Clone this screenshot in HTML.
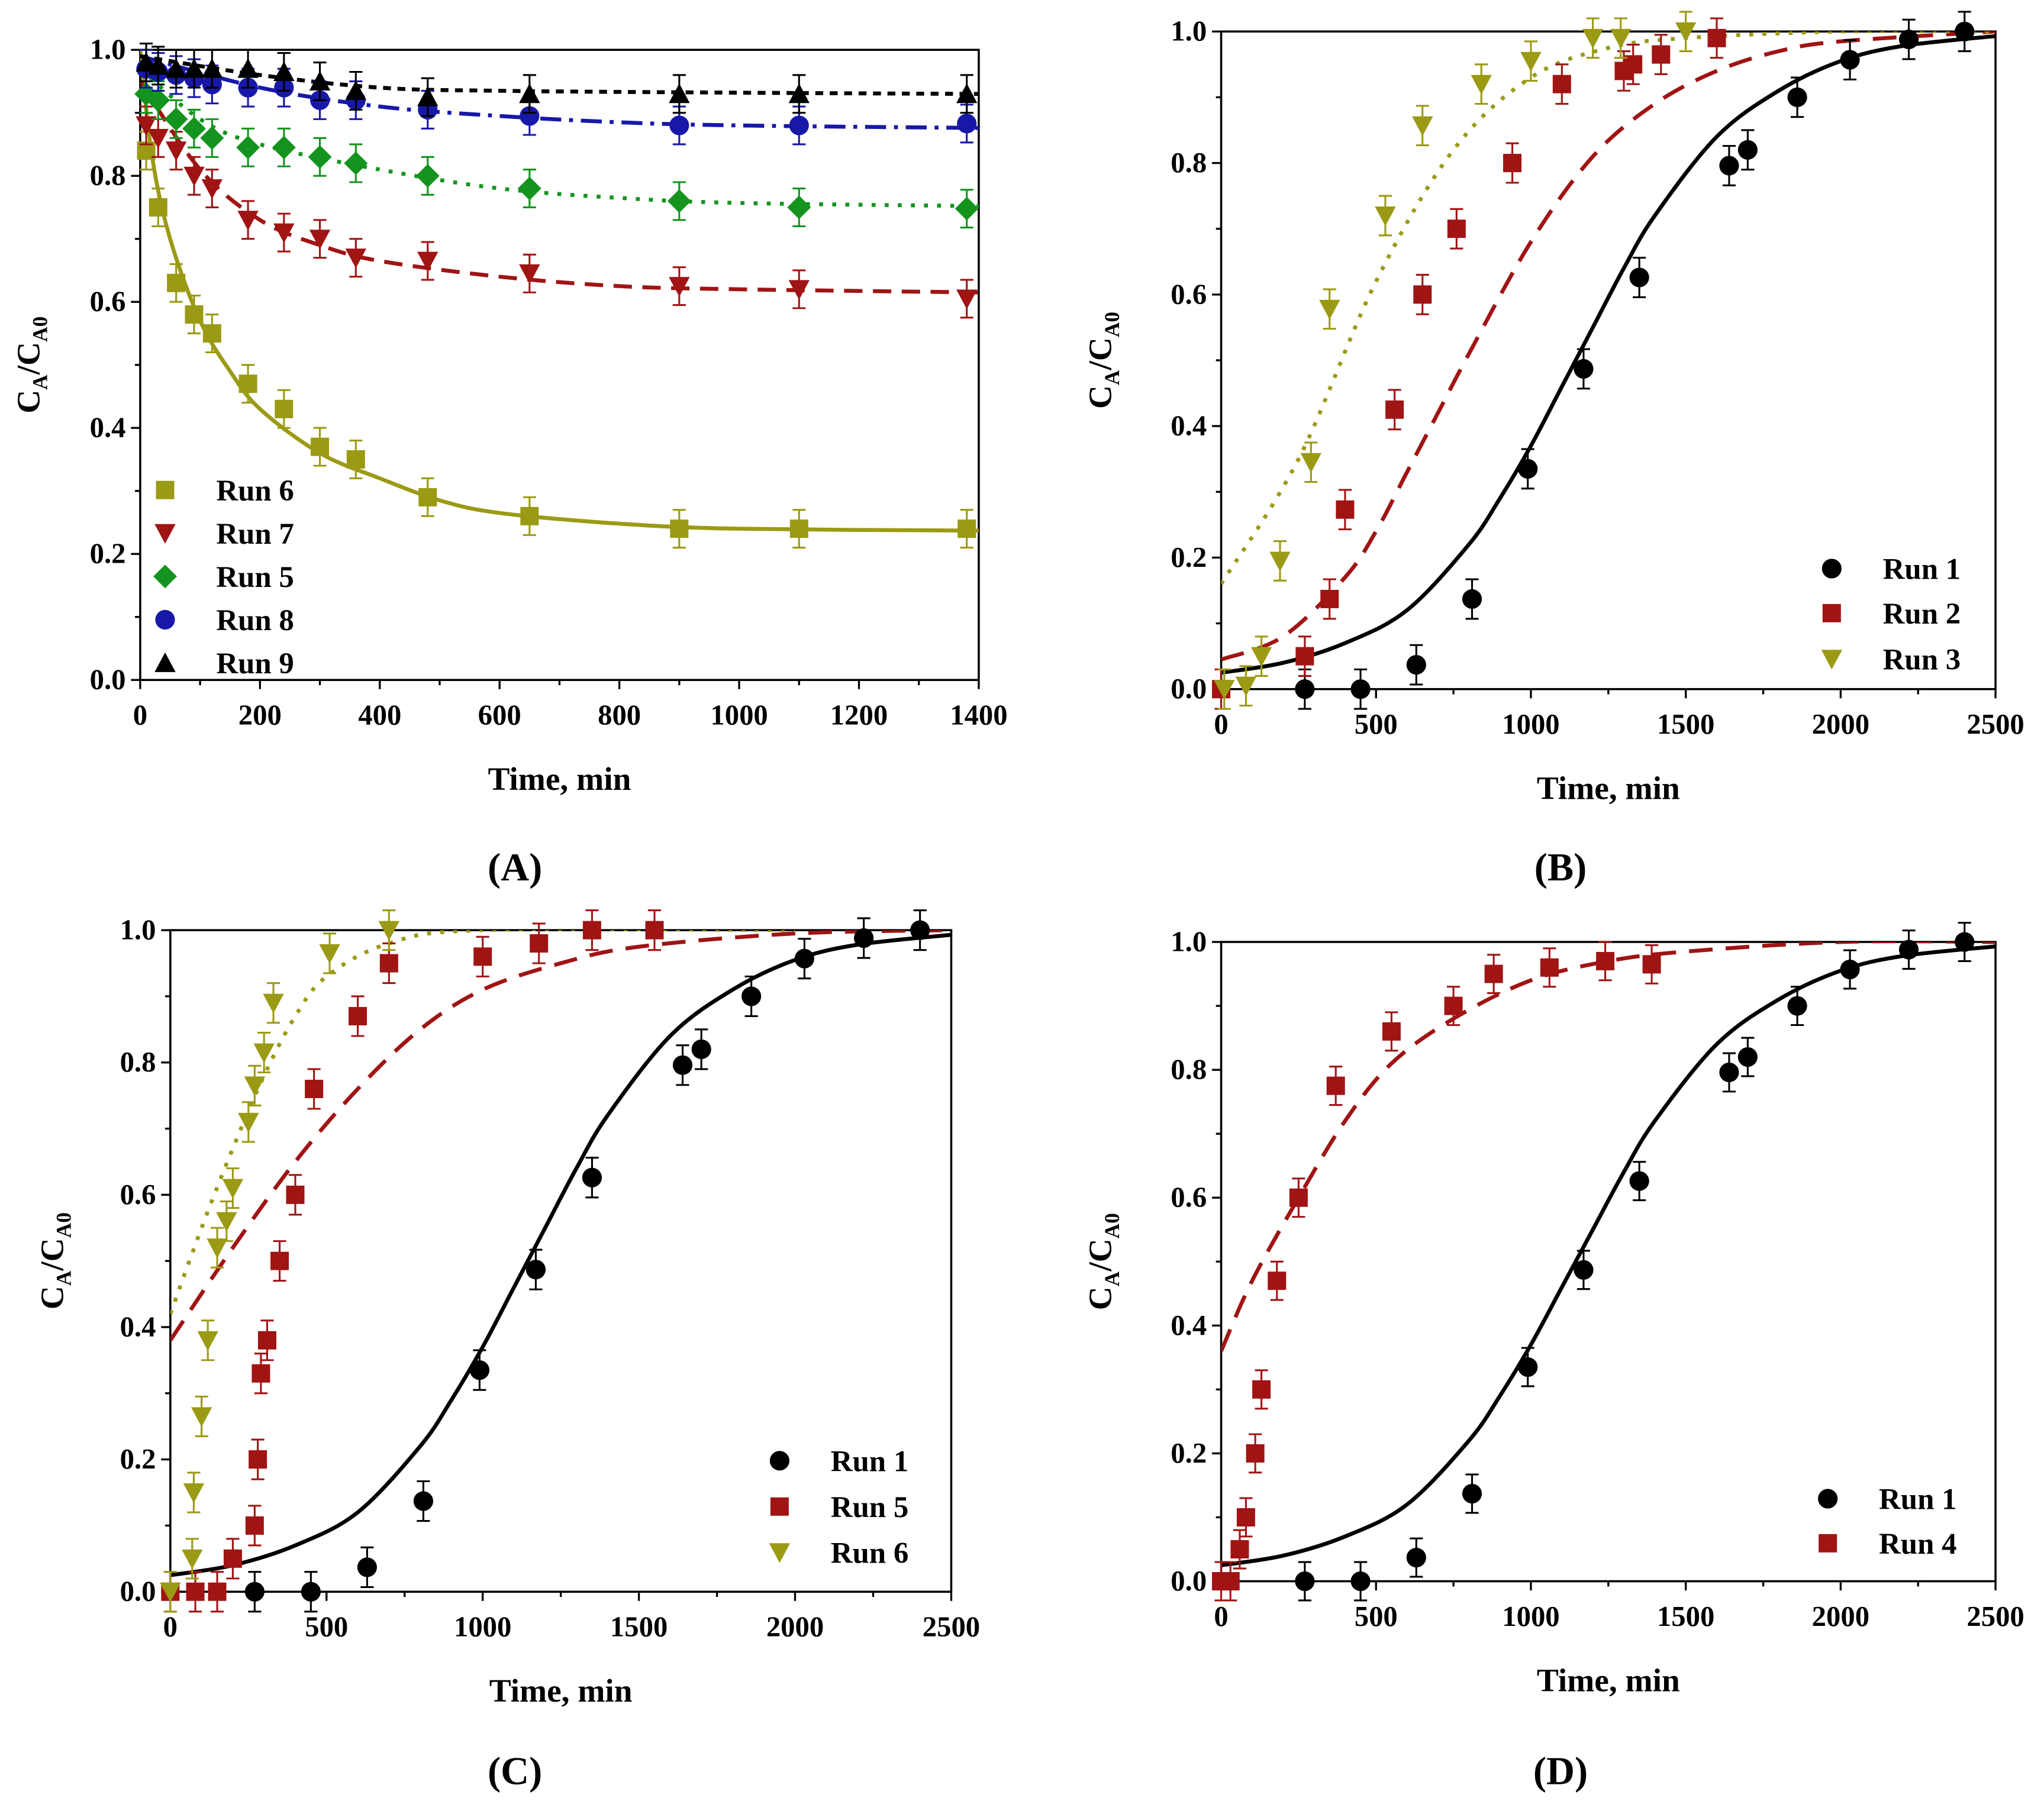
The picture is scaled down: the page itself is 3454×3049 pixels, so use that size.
<!DOCTYPE html>
<html><head><meta charset="utf-8"><style>
html,body{margin:0;padding:0;background:#fff}
svg{display:block}
text{font-family:"Liberation Serif",serif;font-weight:bold;fill:#000}
</style></head><body>
<svg id="root" width="3454" height="3049" viewBox="0 0 1560 1377" xmlns="http://www.w3.org/2000/svg"></svg>
<script>
// ---------- Panel A data ----------
const aT = [10,30,60,90,120,180,240,300,360,480,650,900,1100,1380];
const aRun6 = [0.84,0.75,0.63,0.58,0.55,0.47,0.43,0.37,0.35,0.29,0.26,0.24,0.24,0.24];
const aRun7 = [0.88,0.86,0.84,0.80,0.78,0.73,0.71,0.70,0.67,0.665,0.645,0.625,0.62,0.605];
const aRun5 = [0.93,0.92,0.89,0.875,0.86,0.845,0.845,0.83,0.82,0.80,0.78,0.76,0.75,0.748];
const aRun8 = [0.97,0.965,0.96,0.955,0.945,0.94,0.94,0.92,0.92,0.905,0.895,0.88,0.88,0.883];
const aRun9 = [0.98,0.975,0.97,0.97,0.97,0.97,0.965,0.95,0.935,0.925,0.93,0.93,0.93,0.93];
const aFit6T = [0,20,50,100,150,200,300,400,500,600,800,1000,1400];
const aFit6 = [1.0,0.83,0.70,0.57,0.49,0.43,0.36,0.32,0.285,0.265,0.248,0.24,0.237];
const aFit7T = [0,100,200,300,400,600,800,1000,1400];
const aFit7 = [0.95,0.81,0.73,0.69,0.665,0.64,0.625,0.62,0.615];
const aFit5T = [0,100,200,400,600,800,1000,1400];
const aFit5 = [0.97,0.89,0.85,0.81,0.78,0.765,0.757,0.752];
const aFit8T = [0,200,400,600,800,1000,1400];
const aFit8 = [0.99,0.94,0.91,0.895,0.885,0.88,0.876];
const aFit9T = [0,200,400,600,1000,1400];
const aFit9 = [0.99,0.96,0.94,0.935,0.932,0.93];
// ---------- Run 1 (B,C,D) ----------
const r1T = [270,450,630,810,990,1170,1350,1640,1700,1860,2030,2220,2400];
const r1V = [0.0,0.0,0.037,0.137,0.335,0.487,0.626,0.796,0.82,0.9,0.957,0.988,1.0];
const r1FitT = [0,200,400,600,800,900,1000,1100,1200,1300,1400,1600,1800,2000,2200,2500];
const r1Fit = [0.025,0.04,0.07,0.12,0.22,0.29,0.37,0.46,0.55,0.64,0.72,0.84,0.91,0.955,0.978,0.993];
// ---------- Panel B ----------
const bR2T = [0,270,350,400,560,650,760,940,1100,1300,1330,1420,1600];
const bR2V = [0.0,0.05,0.137,0.273,0.425,0.6,0.7,0.8,0.92,0.94,0.95,0.965,0.99];
const bR2FitT = [0,200,400,500,600,700,800,1000,1200,1400,1600,1800,2000,2500];
const bR2Fit = [0.045,0.08,0.17,0.24,0.33,0.42,0.51,0.68,0.81,0.89,0.94,0.97,0.985,1.0];
const bR3T = [10,80,130,190,290,350,530,650,840,1000,1200,1290,1500];
const bR3V = [0.0,0.005,0.05,0.195,0.345,0.578,0.72,0.857,0.92,0.955,0.99,0.99,1.0];
const bR3FitT = [0,250,500,750,1000,1250,1500,2000,2500];
const bR3Fit = [0.16,0.35,0.62,0.82,0.93,0.975,0.99,1.0,1.0];
// ---------- Panel C ----------
const cR5T = [0,80,150,200,270,280,290,310,350,400,460,600,700,1000,1180,1350,1550];
const cR5V = [0,0,0,0.05,0.1,0.2,0.33,0.38,0.5,0.6,0.76,0.87,0.95,0.96,0.98,1.0,1.0];
const cR5FitT = [0,200,400,600,800,1000,1250,1500,2000,2500];
const cR5Fit = [0.38,0.52,0.65,0.76,0.85,0.91,0.95,0.975,0.995,1.0];
const cR6T = [0,70,75,100,120,150,180,200,250,270,300,330,510,700];
const cR6V = [0.0,0.05,0.15,0.265,0.38,0.52,0.56,0.61,0.71,0.765,0.815,0.89,0.965,1.0];
const cR6FitT = [0,100,200,300,400,500,700,1000,2000];
const cR6Fit = [0.42,0.55,0.67,0.78,0.87,0.93,0.98,1.0,1.0];
// ---------- Panel D ----------
const dR4T = [0,30,60,80,110,130,180,250,370,550,750,880,1060,1240,1390];
const dR4V = [0,0,0.05,0.1,0.2,0.3,0.47,0.6,0.775,0.86,0.9,0.95,0.96,0.97,0.965];
const dR4FitT = [0,100,250,400,550,750,1000,1250,1500,2000,2500];
const dR4Fit = [0.36,0.47,0.6,0.72,0.81,0.88,0.94,0.97,0.985,1.0,1.0];
const yTicks = [0.0,0.2,0.4,0.6,0.8,1.0];
const xTicksA = [0,200,400,600,800,1000,1200,1400];
const xTicksB = [0,500,1000,1500,2000,2500];

const NS="http://www.w3.org/2000/svg";
const root=document.getElementById('root');
function mk(tag,attrs,parent){const e=document.createElementNS(NS,tag);for(const k in attrs)e.setAttribute(k,attrs[k]);(parent||root).appendChild(e);return e;}
const COL={olive:'#9b9a14',red:'#a01414',green:'#14941e',blue:'#1818a8',black:'#000'};
let clipN=0;

function panel(id,x0,x1,y0,y1,xmax,xTicks,label,lx,ly,titleX,ytX){
  const g=mk('g',{});
  
  
  const sx=v=>x0+(v/xmax)*(x1-x0);
  const sy=v=>y1-v*(y1-y0);
  const cid='clip'+(clipN++);
  const cp=mk('clipPath',{id:cid},g);mk('rect',{x:x0,y:y0,width:x1-x0,height:y1-y0},cp);
  const fr=mk('rect',{x:x0,y:y0,width:x1-x0,height:y1-y0,fill:'none',stroke:'#000','stroke-width':1.6},g);
  
  
  const step=xTicks[1]-xTicks[0];
  xTicks.forEach((t,i)=>{
    mk('line',{x1:sx(t),x2:sx(t),y1:y1,y2:y1+7,stroke:'#000','stroke-width':1.5},g);
    if(i<xTicks.length-1)mk('line',{x1:sx(t+step/2),x2:sx(t+step/2),y1:y1,y2:y1+4,stroke:'#000','stroke-width':1.5},g);
    const tx=mk('text',{x:sx(t),y:y1+34,'text-anchor':'middle','font-size':22},g);tx.textContent=t;
    
    
  });
  yTicks.forEach((t,i)=>{
    mk('line',{x1:x0-7,x2:x0,y1:sy(t),y2:sy(t),stroke:'#000','stroke-width':1.5},g);
    if(i<yTicks.length-1)mk('line',{x1:x0-4,x2:x0,y1:sy(t+0.1),y2:sy(t+0.1),stroke:'#000','stroke-width':1.5},g);
    const tx=mk('text',{x:x0-11,y:sy(t)+7,'text-anchor':'end','font-size':22},g);tx.textContent=t.toFixed(1);
    
    
  });
  const xt=mk('text',{x:(x0+x1)/2,y:y1+84,'text-anchor':'middle','font-size':25},g);xt.textContent='Time, min';
  
  
  const yt=mk('text',{transform:`translate(${ytX},${(y0+y1)/2}) rotate(-90)`,'text-anchor':'middle','font-size':25},g);
  yt.innerHTML='C<tspan font-size="16" dy="6">A</tspan><tspan dy="-6">/C</tspan><tspan font-size="16" dy="6">A0</tspan>';
  
  
  const pl=mk('text',{x:lx,y:ly,'text-anchor':'middle','font-size':30,'font-weight':'normal'},root);
  pl.innerHTML='(<tspan font-weight="bold">'+label+'</tspan>)';
  
  
  const plotG=mk('g',{'clip-path':'url(#'+cid+')'},g);
  return {g,plotG,sx,sy};
}
function marker(g,shape,x,y,c){
  const s=7;let e;
  if(shape==='sq')e=mk('rect',{x:x-s,y:y-s,width:2*s,height:2*s,fill:c},g);
  else if(shape==='ci')e=mk('circle',{cx:x,cy:y,r:s+0.5,fill:c},g);
  else if(shape==='dn')e=mk('polygon',{points:`${x-8},${y-7} ${x+8},${y-7} ${x},${y+8}`,fill:c},g);
  else if(shape==='up')e=mk('polygon',{points:`${x-8},${y+7} ${x+8},${y+7} ${x},${y-8}`,fill:c},g);
  else e=mk('polygon',{points:`${x},${y-9} ${x+9},${y} ${x},${y+9} ${x-9},${y}`,fill:c},g);
  return e;
}
function series(P,name,T,V,shape,c,err){
  const sg=mk('g',{},P.g);
  
  
  T.forEach((t,i)=>{
    const x=P.sx(t),y=P.sy(V[i]),e=P.sy(V[i]+err)-y;
    mk('line',{x1:x,x2:x,y1:y+e,y2:y-e,stroke:c,'stroke-width':1.4},sg);
    mk('line',{x1:x-5,x2:x+5,y1:y+e,y2:y+e,stroke:c,'stroke-width':1.4},sg);
    mk('line',{x1:x-5,x2:x+5,y1:y-e,y2:y-e,stroke:c,'stroke-width':1.4},sg);
    const m=marker(sg,shape,x,y,c);
    
    
  });
}
function fit(P,name,T,V,c,dash){
  const pts=T.map((t,i)=>[P.sx(t),P.sy(V[i])]);
  let d='M'+pts[0][0]+','+pts[0][1];
  for(let i=0;i<pts.length-1;i++){
    const p0=pts[i-1]||pts[i],p1=pts[i],p2=pts[i+1],p3=pts[i+2]||p2;
    d+=` C${p1[0]+(p2[0]-p0[0])/6},${p1[1]+(p2[1]-p0[1])/6} ${p2[0]-(p3[0]-p1[0])/6},${p2[1]-(p3[1]-p1[1])/6} ${p2[0]},${p2[1]}`;
  }
  const p=mk('path',{d,fill:'none',stroke:c,'stroke-width':3,'stroke-dasharray':dash},P.plotG);
  
  
}
function legend(P,items,sx,tx,ys){
  items.forEach((it,i)=>{
    const m=marker(P.g,it[1],sx,ys[i],it[2]);
    
    
    const t=mk('text',{x:tx,y:ys[i]+8,'font-size':23},P.g);t.textContent=it[0];
    
    
  });
}
// Panel A
const A=panel('a',107,747,38,519,1400,xTicksA,'A',393,672,0,30);
fit(A,'run6',aFit6T,aFit6,COL.olive,'none');
fit(A,'run7',aFit7T,aFit7,COL.red,'14 8');
fit(A,'run5',aFit5T,aFit5,COL.green,'3 7');
fit(A,'run8',aFit8T,aFit8,COL.blue,'16 6 3 6');
fit(A,'run9',aFit9T,aFit9,COL.black,'6 5');
series(A,'run6',aT,aRun6,'sq',COL.olive,0.03);
series(A,'run7',aT,aRun7,'dn',COL.red,0.03);
series(A,'run5',aT,aRun5,'di',COL.green,0.03);
series(A,'run8',aT,aRun8,'ci',COL.blue,0.03);
series(A,'run9',aT,aRun9,'up',COL.black,0.03);
legend(A,[['Run 6','sq',COL.olive],['Run 7','dn',COL.red],['Run 5','di',COL.green],['Run 8','ci',COL.blue],['Run 9','up',COL.black]],126,165,[374,407,440,473,506]);
// Panel B
const B=panel('b',932,1523,24,526,2500,xTicksB,'B',1191,672,0,848);
fit(B,'run1',r1FitT,r1Fit,COL.black,'none');
fit(B,'run2',bR2FitT,bR2Fit,COL.red,'18 10');
fit(B,'run3',bR3FitT,bR3Fit,COL.olive,'3 7');
series(B,'run1',r1T,r1V,'ci',COL.black,0.03);
series(B,'run2',bR2T,bR2V,'sq',COL.red,0.03);
series(B,'run3',bR3T,bR3V,'dn',COL.olive,0.03);
legend(B,[['Run 1','ci',COL.black],['Run 2','sq',COL.red],['Run 3','dn',COL.olive]],1398,1437,[434,468,503]);
// Panel C
const C=panel('c',130,726,710,1215,2500,xTicksB,'C',393,1362,0,48);
fit(C,'run1',r1FitT,r1Fit,COL.black,'none');
fit(C,'run5',cR5FitT,cR5Fit,COL.red,'18 10');
fit(C,'run6',cR6FitT,cR6Fit,COL.olive,'3 7');
series(C,'run1',r1T,r1V,'ci',COL.black,0.03);
series(C,'run5',cR5T,cR5V,'sq',COL.red,0.03);
series(C,'run6',cR6T,cR6V,'dn',COL.olive,0.03);
legend(C,[['Run 1','ci',COL.black],['Run 5','sq',COL.red],['Run 6','dn',COL.olive]],595,634,[1115,1150,1185]);
// Panel D
const D=panel('d',932,1523,719,1207,2500,xTicksB,'D',1191,1362,0,848);
fit(D,'run1',r1FitT,r1Fit,COL.black,'none');
fit(D,'run4',dR4FitT,dR4Fit,COL.red,'18 10');
series(D,'run1',r1T,r1V,'ci',COL.black,0.03);
series(D,'run4',dR4T,dR4V,'sq',COL.red,0.03);
legend(D,[['Run 1','ci',COL.black],['Run 4','sq',COL.red]],1395,1434,[1144,1178]);
</script>
</body></html>
